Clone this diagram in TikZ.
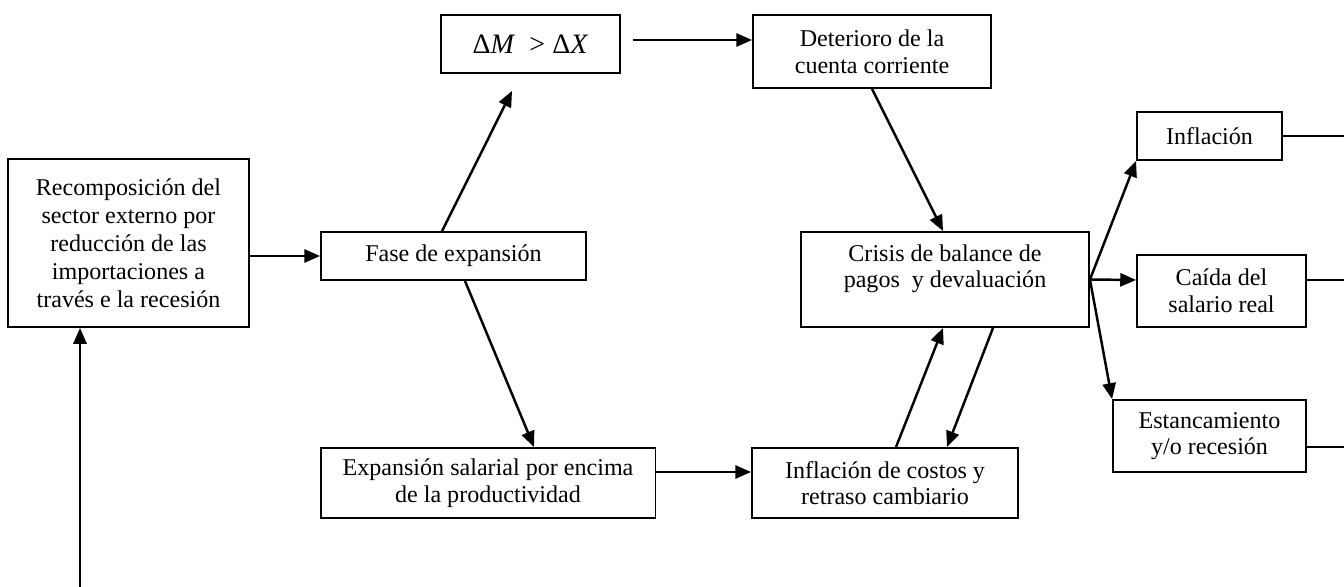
\documentclass[tikz,border=0pt]{standalone}
\usepackage{fontspec}
\setmainfont{Liberation Serif}
\usetikzlibrary{arrows.meta,calc}

\begin{document}
\begin{tikzpicture}[x=0.02cm, y=-0.02cm,
  caja/.style={draw, line width=1.1pt, align=center, inner sep=0pt, font=\fontsize{13.7}{15.2}\selectfont},
  flecha/.style={-{Triangle[length=9pt,width=7.5pt]}, line width=1.4pt},
  linea/.style={line width=1.4pt}]
\useasboundingbox (0,0) rectangle (1344,587);
% cajas
\node[caja, minimum width=4.82cm, minimum height=3.36cm, font=\fontsize{13.7}{16}\selectfont] (recomp) at (128.5,243) {Recomposición del\\ sector externo por\\ reducción de las\\ importaciones a\\ través e la recesión};
\node[caja, minimum width=5.30cm, minimum height=0.96cm] (fase) at (453.5,256) {Fase de expansión};
\node[caja, minimum width=3.58cm, minimum height=1.16cm, font=\fontsize{16}{16}\selectfont] (dm) at (530.5,44) {Δ\textit{M}~~>~Δ\textit{X}};
\node[caja, minimum width=4.76cm, minimum height=1.46cm] (deterioro) at (872,51.5) {Deterioro de la\\ cuenta corriente};
\node[caja, minimum width=5.76cm, minimum height=1.90cm] (crisis) at (945,279.5) {Crisis de balance de\\ pagos~ y devaluación\\ \mbox{}};
\node[caja, minimum width=6.70cm, minimum height=1.40cm] (expansion) at (488,483) {Expansión salarial por encima\\ de la productividad};
\node[caja, minimum width=5.32cm, minimum height=1.40cm] (costos) at (885,483) {Inflación de costos y\\ retraso cambiario};
\node[caja, minimum width=2.90cm, minimum height=0.96cm] (inflacion) at (1209.5,136) {Inflación};
\node[caja, minimum width=3.38cm, minimum height=1.44cm] (caida) at (1221.5,291) {Caída del\\ salario real};
\node[caja, minimum width=3.86cm, minimum height=1.44cm] (estanc) at (1209.5,436) {Estancamiento\\ y/o recesión};
\coordinate (base) at (80,587);
\coordinate (borde) at (1344,0);
% flechas
\draw[flecha] (base) -- (base |- recomp.south);
\draw[flecha] (recomp.east |- fase.west) -- (fase.west);
\draw[flecha] ($(fase.north)+(-11.5,0)$) -- ($(dm.south)+(-18.5,17)$);
\draw[flecha] ($(dm.east)+(12,-4)$) -- ($(deterioro.west)+(0,-11.5)$);
\draw[flecha] (deterioro.south) -- ($(crisis.north)+(-2,0)$);
\draw[flecha] ($(fase.south)+(11.5,0)$) -- ($(expansion.north)+(46,0)$);
\draw[flecha] ($(expansion.east)+(0,-11)$) -- ($(costos.west)+(0,-11)$);
\draw[flecha] ($(costos.north)+(11,0)$) -- ($(crisis.south)+(-2,0)$);
\draw[flecha] ($(crisis.south)+(48,0)$) -- ($(costos.north)+(62,0)$);
\draw[flecha] (crisis.east) -- (inflacion.south west);
\draw[flecha] (crisis.east) -- ($(caida.west)+(0,-11)$);
\draw[flecha] (crisis.east) -- (estanc.north west);
\draw[linea] (inflacion.east) -- (inflacion.east -| borde);
\draw[linea] ($(caida.east)+(0,-11)$) -- ($(caida.east -| borde)+(0,-11)$);
\draw[linea] ($(estanc.east)+(0,11)$) -- ($(estanc.east -| borde)+(0,11)$);
\end{tikzpicture}
\end{document}
